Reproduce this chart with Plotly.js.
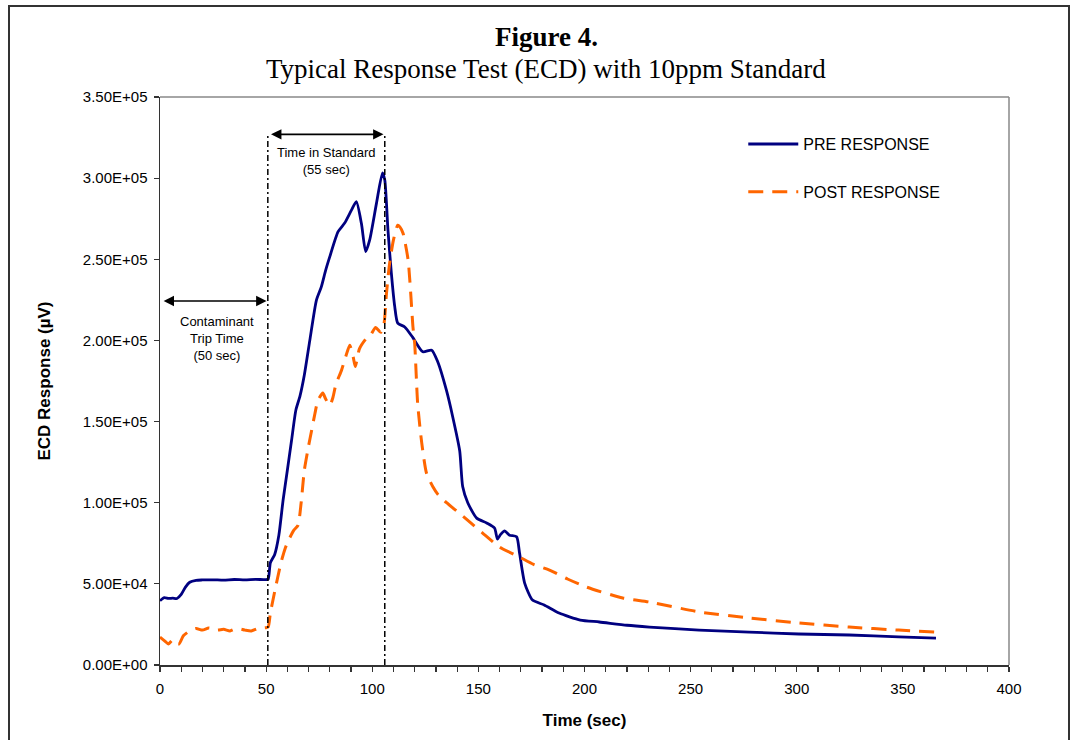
<!DOCTYPE html>
<html>
<head>
<meta charset="utf-8">
<script src="https://cdn.plot.ly/plotly-3.0.1.min.js"></script>
<style>
html,body{margin:0;padding:0;background:#fff;}
#wrap{position:relative;width:1076px;height:740px;}
#chart{width:1076px;height:740px;}
#frame{position:absolute;left:8px;top:5px;width:1058px;height:760px;border-left:2px solid #333;border-top:2px solid #333;border-right:2px solid #333;pointer-events:none;}
</style>
</head>
<body>
<div id="wrap"><div id="chart"></div><div id="frame"></div></div>
<script>
// Time (sec) and ECD response (µV) for the PRE RESPONSE series
const preTime = [0, 2, 4, 6, 8, 10, 12, 14, 17, 20, 25, 30, 35, 40, 45, 50, 51, 52, 54, 56, 58, 60, 62, 64, 66, 68, 70.6, 73.7, 76, 78, 80, 83.9, 87, 90.2, 92.5, 94.9, 96.9, 98.8, 102, 104.8, 105.9, 107.4, 109, 110.6, 112, 115.3, 119, 123.8, 128, 130.8, 135, 137.9, 141.2, 142.6, 145, 149.2, 153.9, 157.6, 159, 160.5, 162.4, 164.7, 168, 169.4, 171.8, 175.5, 181, 188, 198, 207, 220, 230.6, 254, 277.6, 301, 324.7, 348, 365.6];
const preValue = [39600, 41500, 41000, 41200, 41000, 43500, 48000, 51000, 52200, 52400, 52500, 52300, 52700, 52400, 52800, 52600, 53000, 63000, 68000, 80000, 101700, 120000, 138600, 157000, 166000, 178700, 200200, 224900, 233000, 243000, 251600, 267000, 272300, 280300, 285500, 272000, 254700, 261900, 284600, 303300, 298800, 268000, 241500, 220800, 210700, 208300, 202000, 193000, 194000, 187000, 169000, 153000, 132000, 110000, 100000, 90500, 87500, 84400, 77600, 80500, 82600, 80000, 79000, 69000, 50500, 40000, 37000, 32000, 27700, 26500, 24500, 23400, 21500, 20300, 19100, 18500, 17300, 16600];

// Time (sec) and ECD response (µV) for the POST RESPONSE series
const postTime = [0, 2, 4, 6, 7, 9, 11, 14, 17, 20, 23, 27, 30, 33, 36, 40, 43, 46, 50, 51, 52, 54, 57, 59, 61, 63, 65, 66.5, 68, 70, 71.5, 73, 74.4, 76.7, 78, 80, 81.5, 82.8, 85.6, 87.5, 89.4, 91, 92, 94, 97, 99.5, 101.6, 104, 105.5, 106.7, 108.2, 110, 112, 113, 114.5, 116.9, 119.2, 120, 121.4, 123.3, 125.6, 128.5, 131, 135, 141, 146, 152, 160, 169.4, 176, 183.5, 192, 201, 218, 230.6, 254, 277.6, 301, 324.7, 348, 365.6];
const postValue = [17200, 15000, 13000, 15500, 13500, 13000, 18000, 21000, 22500, 21500, 22800, 21500, 22000, 21000, 22500, 21500, 21000, 22500, 23000, 23500, 32000, 45000, 63000, 72000, 78000, 83000, 86000, 100000, 120000, 135000, 145000, 155000, 163000, 167600, 164000, 160000, 165000, 172500, 182000, 190000, 197000, 190000, 184000, 195000, 201000, 204000, 208000, 205000, 210000, 229000, 247700, 262000, 271000, 270000, 266000, 249500, 208000, 198000, 161000, 137000, 118000, 110000, 105000, 100000, 93600, 88000, 81300, 72700, 66500, 62000, 58500, 53000, 48000, 41300, 38800, 32700, 29000, 25900, 23400, 21500, 20300];

// Axis ticks
const xTicks = [0, 50, 100, 150, 200, 250, 300, 350, 400];
const yTicks = [0, 50000, 100000, 150000, 200000, 250000, 300000, 350000];
const yTickText = ["0.00E+00", "5.00E+04", "1.00E+05", "1.50E+05", "2.00E+05", "2.50E+05", "3.00E+05", "3.50E+05"];

// Annotated intervals (sec)
const tripStart = 1, tripEnd = 50.8;
const standardStart = 50.8, standardEnd = 105.9;

const sans = "Liberation Sans, Arial, sans-serif";
const serif = "Liberation Serif, Times New Roman, serif";

const traces = [
  {x: preTime, y: preValue, type: 'scatter', mode: 'lines', name: 'PRE RESPONSE',
   line: {color: '#000080', width: 2.8, shape: 'spline', smoothing: 0.6}, legendgroup: 'a'},
  {x: postTime, y: postValue, type: 'scatter', mode: 'lines', name: 'POST RESPONSE',
   line: {color: '#FF6600', width: 3, dash: '15px,9px', shape: 'spline', smoothing: 0.6}, legendgroup: 'b'}
];

const vline = (x) => ({type: 'line', xref: 'x', yref: 'y', x0: x, x1: x, y0: 0, y1: 327000,
  line: {color: '#000', width: 1.5, dash: '6px,3px,2px,3px'}});

const layout = {
  width: 1076, height: 740,
  margin: {l: 160, r: 67, t: 97, b: 75, pad: 0},
  paper_bgcolor: '#fff', plot_bgcolor: '#fff',
  showlegend: true,
  legend: {x: 0.687, y: 0.947, xanchor: 'left', yanchor: 'top', bgcolor: 'rgba(0,0,0,0)',
    borderwidth: 0, font: {family: sans, size: 16, color: '#000'}, traceorder: 'grouped',
    tracegroupgap: 24, itemwidth: 50},
  xaxis: {range: [0, 400], tickvals: xTicks, ticks: 'outside', ticklen: 5, tickwidth: 1.2, tickcolor: '#333',
    minor: {dtick: 10, ticks: 'outside', ticklen: 5, tickwidth: 1.2, tickcolor: '#333', showgrid: false},
    showline: true, linecolor: '#333', linewidth: 1.5, showgrid: false, zeroline: false,
    ticklabelstandoff: 4,
    tickfont: {family: sans, size: 15, color: '#000'},
    title: {text: '<b>Time (sec)</b>', font: {family: sans, size: 17, color: '#000'}, standoff: 18}},
  yaxis: {range: [0, 350000], tickvals: yTicks, ticktext: yTickText, ticks: 'outside', ticklen: 5, tickwidth: 1.2, tickcolor: '#333',
    showline: true, linecolor: '#333', linewidth: 1.5, showgrid: false, zeroline: false,
    ticklabelstandoff: 3,
    tickfont: {family: sans, size: 15, color: '#000'},
    title: {text: '<b>ECD Response (µV)</b>', font: {family: sans, size: 17, color: '#000'}, standoff: 28}},
  shapes: [
    {type: 'line', xref: 'paper', yref: 'paper', x0: 0, x1: 1, y0: 1, y1: 1, line: {color: '#888', width: 1.5}},
    {type: 'line', xref: 'paper', yref: 'paper', x0: 1, x1: 1, y0: 0, y1: 1, line: {color: '#888', width: 1.5}},
    vline(standardStart), vline(standardEnd)
  ],
  annotations: [
    {xref: 'paper', yref: 'paper', x: 0.4547, y: 1.106, xanchor: 'center', yanchor: 'middle', showarrow: false,
     text: '<b>Figure 4.</b>', font: {family: serif, size: 27, color: '#000'}},
    {xref: 'paper', yref: 'paper', x: 0.4547, y: 1.0493, xanchor: 'center', yanchor: 'middle', showarrow: false,
     text: 'Typical Response Test (ECD) with 10ppm Standard', font: {family: serif, size: 27, color: '#000'}},
    {x: standardEnd - 0.6, y: 327000, ax: standardStart + 0.8, ay: 327000, xref: 'x', yref: 'y', axref: 'x', ayref: 'y',
     text: '', showarrow: true, arrowhead: 2, startarrowhead: 2, arrowside: 'end+start', arrowsize: 1.3, startarrowsize: 1.3, arrowwidth: 1.6, arrowcolor: '#000'},
    {x: tripEnd - 0.6, y: 224300, ax: tripStart, ay: 224300, xref: 'x', yref: 'y', axref: 'x', ayref: 'y',
     text: '', showarrow: true, arrowhead: 2, startarrowhead: 2, arrowside: 'end+start', arrowsize: 1.3, startarrowsize: 1.3, arrowwidth: 1.6, arrowcolor: '#000'},
    {x: 78.6, y: 310500, xref: 'x', yref: 'y', showarrow: false, align: 'center',
     text: 'Time in Standard<br>(55 sec)', font: {family: sans, size: 13, color: '#000'}},
    {x: 26.8, y: 200900, xref: 'x', yref: 'y', showarrow: false, align: 'center',
     text: 'Contaminant<br>Trip Time<br>(50 sec)', font: {family: sans, size: 13, color: '#000'}}
  ]
};

Plotly.newPlot('chart', traces, layout, {displayModeBar: false, staticPlot: true});
</script>
</body>
</html>
